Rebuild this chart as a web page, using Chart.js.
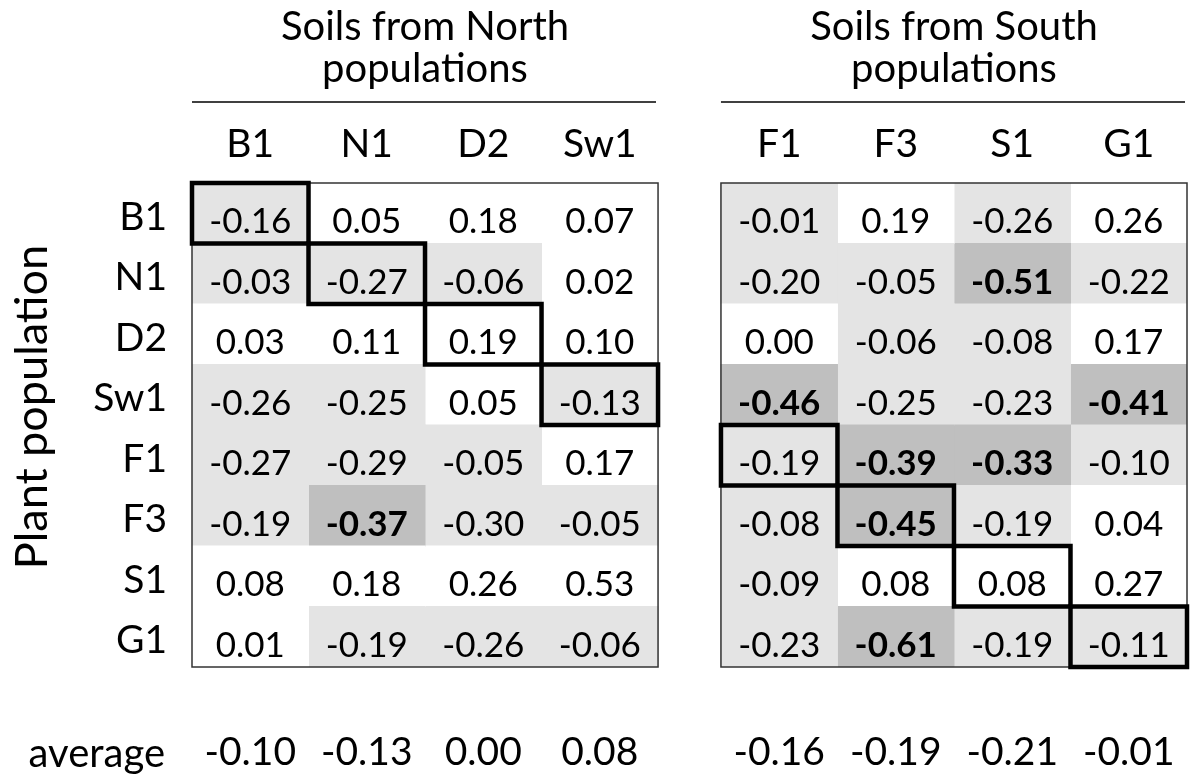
<!DOCTYPE html>
<html>
<head>
<meta charset="utf-8">
<script src="https://cdn.jsdelivr.net/npm/chart.js@4.4.1/dist/chart.umd.min.js"></script>
<style>
  html, body { margin: 0; padding: 0; background: #ffffff; }
  #wrap { width: 1200px; height: 784px; }
</style>
</head>
<body>
<div id="wrap"><canvas id="c" width="1200" height="784"></canvas></div>
<script>
// ---------------- data ----------------
const soilColumns = ['B1', 'N1', 'D2', 'Sw1', 'F1', 'F3', 'S1', 'G1'];
const plantRows   = ['B1', 'N1', 'D2', 'Sw1', 'F1', 'F3', 'S1', 'G1'];
const northTitle  = ['Soils from North', 'populations'];
const southTitle  = ['Soils from South', 'populations'];
const rowAxisTitle = 'Plant population';
const averageLabel = 'average';

// values[row][column]
const values = [
  [-0.16,  0.05,  0.18,  0.07, -0.01,  0.19, -0.26,  0.26],
  [-0.03, -0.27, -0.06,  0.02, -0.20, -0.05, -0.51, -0.22],
  [ 0.03,  0.11,  0.19,  0.10,  0.00, -0.06, -0.08,  0.17],
  [-0.26, -0.25,  0.05, -0.13, -0.46, -0.25, -0.23, -0.41],
  [-0.27, -0.29, -0.05,  0.17, -0.19, -0.39, -0.33, -0.10],
  [-0.19, -0.37, -0.30, -0.05, -0.08, -0.45, -0.19,  0.04],
  [ 0.08,  0.18,  0.26,  0.53, -0.09,  0.08,  0.08,  0.27],
  [ 0.01, -0.19, -0.26, -0.06, -0.23, -0.61, -0.19, -0.11]
];
// significant (bold, dark shading) flags
const significant = [
  [0, 0, 0, 0, 0, 0, 0, 0],
  [0, 0, 0, 0, 0, 0, 1, 0],
  [0, 0, 0, 0, 0, 0, 0, 0],
  [0, 0, 0, 0, 1, 0, 0, 1],
  [0, 0, 0, 0, 0, 1, 1, 0],
  [0, 1, 0, 0, 0, 1, 0, 0],
  [0, 0, 0, 0, 0, 0, 0, 0],
  [0, 0, 0, 0, 0, 1, 0, 0]
];
const columnAverages = [-0.10, -0.13, 0.00, 0.08, -0.16, -0.19, -0.21, -0.01];

// ---------------- layout / style ----------------
const GAP = 0.54;               // gap between the two panels in column units
const PANEL_COLS = 4;
const FONT = 'Lato';
const colStart = i => i < PANEL_COLS ? i : i + GAP;
const colCenter = i => colStart(i) + 0.5;
const XMAX = soilColumns.length + GAP;
const cellColor = (r, c) => significant[r][c] ? '#bfbfbf' : (values[r][c] < 0 ? '#e4e4e4' : '#ffffff');
const fmt = v => v.toFixed(2);

const datasets = soilColumns.map((col, c) => ({
  label: col,
  data: plantRows.map(() => [colStart(c), colStart(c) + 1]),
  backgroundColor: plantRows.map((_, r) => cellColor(r, c)),
  borderWidth: 0,
  grouped: false,
  barPercentage: 1,
  categoryPercentage: 1,
  inflateAmount: 0.5,
  xAxisID: 'x',
  yAxisID: 'y'
}));

const tablePlugin = {
  id: 'tablePlugin',
  afterDatasetsDraw(chart) {
    const ctx = chart.ctx;
    const xs = chart.scales.x;
    const area = chart.chartArea;
    ctx.save();
    // panel frames
    ctx.strokeStyle = '#333333';
    ctx.lineWidth = 1.5;
    [[0, PANEL_COLS], [PANEL_COLS + GAP, XMAX]].forEach(([a, b]) => {
      const l = xs.getPixelForValue(a), r = xs.getPixelForValue(b);
      ctx.strokeRect(l, area.top, r - l, area.bottom - area.top);
    });
    // cell values
    ctx.textAlign = 'center';
    ctx.textBaseline = 'alphabetic';
    ctx.fillStyle = '#000000';
    const boxes = [];
    soilColumns.forEach((col, c) => {
      const meta = chart.getDatasetMeta(c);
      meta.data.forEach((el, r) => {
        const p = el.getProps(['x', 'y', 'base', 'height'], true);
        const left = Math.min(p.x, p.base), right = Math.max(p.x, p.base);
        const top = p.y - p.height / 2, bottom = p.y + p.height / 2;
        ctx.font = (significant[r][c] ? 'bold ' : '') + '35px ' + FONT;
        ctx.fillText(fmt(values[r][c]), (left + right) / 2, p.y + 20);
        if (plantRows[r] === col) boxes.push([left, top, right - left, bottom - top]);
      });
    });
    // diagonal (home-soil) boxes
    ctx.strokeStyle = '#000000';
    ctx.lineWidth = 4.5;
    boxes.forEach(b => ctx.strokeRect(b[0], b[1], b[2], b[3]));
    ctx.restore();
  },
  afterDraw(chart) {
    const ctx = chart.ctx;
    const xs = chart.scales.x;
    const ys = chart.scales.y;
    ctx.save();
    ctx.fillStyle = '#000000';
    ctx.textAlign = 'center';
    ctx.textBaseline = 'alphabetic';
    ctx.font = '40px ' + FONT;
    [[0, PANEL_COLS, northTitle], [PANEL_COLS + GAP, XMAX, southTitle]].forEach(([a, b, lines]) => {
      const l = xs.getPixelForValue(a), r = xs.getPixelForValue(b);
      const cx = (l + r) / 2;
      ctx.fillText(lines[0], cx, 40);
      ctx.fillText(lines[1], cx, 82);
      ctx.strokeStyle = '#000000';
      ctx.lineWidth = 1.5;
      ctx.beginPath();
      ctx.moveTo(l, 102);
      ctx.lineTo(r - 2, 102);
      ctx.stroke();
    });
    // rotated row axis title
    ctx.save();
    ctx.translate(47, 407);
    ctx.rotate(-Math.PI / 2);
    ctx.font = '45px ' + FONT;
    ctx.fillText(rowAxisTitle, 0, 0);
    ctx.restore();
    // "average" label
    ctx.textAlign = 'right';
    ctx.font = '40px ' + FONT;
    ctx.fillText(averageLabel, ys.right - 27, 767);
    ctx.restore();
  }
};

Chart.defaults.font.family = FONT;
Chart.defaults.color = '#000000';

new Chart(document.getElementById('c'), {
  type: 'bar',
  data: { labels: plantRows, datasets },
  options: {
    indexAxis: 'y',
    responsive: false,
    animation: false,
    devicePixelRatio: 1,
    layout: { padding: { left: 0, right: 13, top: 0, bottom: 0 } },
    plugins: { legend: { display: false }, tooltip: { enabled: false }, title: { display: false } },
    scales: {
      y: {
        type: 'category',
        position: 'left',
        offset: true,
        grid: { display: false, drawTicks: false },
        border: { display: false },
        ticks: { font: { size: 39 }, color: '#000000', padding: 25, labelOffset: 4 },
        afterFit: s => { s.width = 192; }
      },
      x: {
        type: 'linear',
        position: 'top',
        min: 0,
        max: XMAX,
        grid: { display: false, drawTicks: true, tickLength: 13 },
        border: { display: false },
        afterBuildTicks: s => { s.ticks = soilColumns.map((_, i) => ({ value: colCenter(i) })); },
        ticks: {
          autoSkip: false, maxRotation: 0, minRotation: 0,
          font: { size: 39 }, color: '#000000', padding: 2,
          callback: (v, i) => soilColumns[i]
        },
        afterFit: s => { s.height = 183; }
      },
      xb: {
        type: 'linear',
        position: 'bottom',
        min: 0,
        max: XMAX,
        grid: { display: false, drawTicks: true, tickLength: 60 },
        border: { display: false },
        afterBuildTicks: s => { s.ticks = columnAverages.map((_, i) => ({ value: colCenter(i) })); },
        ticks: {
          autoSkip: false, maxRotation: 0, minRotation: 0,
          font: { size: 39 }, color: '#000000', padding: 2,
          callback: (v, i) => fmt(columnAverages[i])
        },
        afterFit: s => { s.height = 117; }
      }
    }
  },
  plugins: [tablePlugin]
});
</script>
</body>
</html>
